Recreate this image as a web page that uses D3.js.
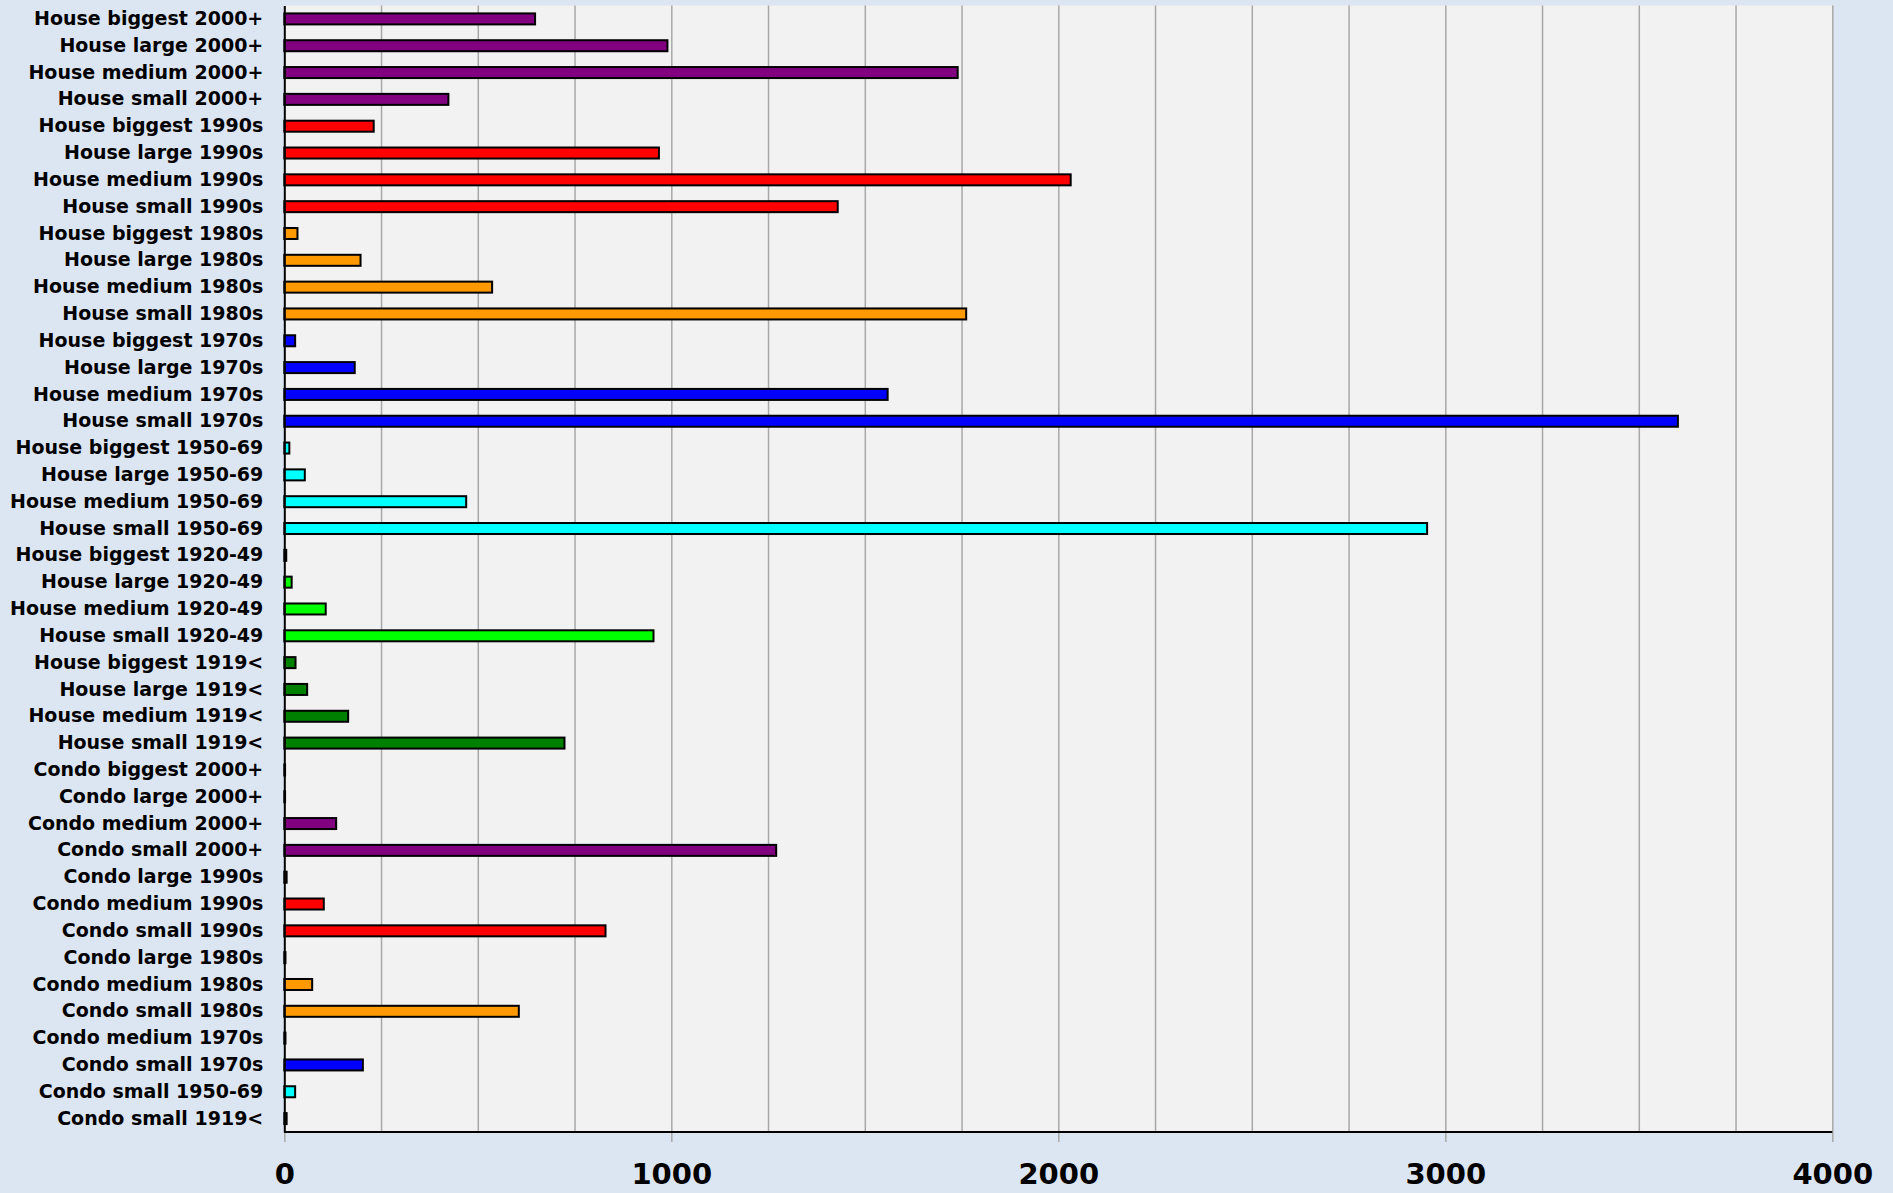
<!DOCTYPE html>
<html>
<head>
	<meta charset="utf-8">
	<script src="https://cdn.jsdelivr.net/npm/d3@7"></script>
	<style>
		body { margin: 0; background-color: #dce6f2; }
		svg { display: block; }
		text { font-family: "DejaVu Sans", Verdana, sans-serif; font-weight: bold; fill: #000; }
	</style>
</head>

<body>

<div id="chart"></div>

<script>

// categories top to bottom
var labels = [
  "House biggest 2000+", "House large 2000+", "House medium 2000+", "House small 2000+",
  "House biggest 1990s", "House large 1990s", "House medium 1990s", "House small 1990s",
  "House biggest 1980s", "House large 1980s", "House medium 1980s", "House small 1980s",
  "House biggest 1970s", "House large 1970s", "House medium 1970s", "House small 1970s",
  "House biggest 1950-69", "House large 1950-69", "House medium 1950-69", "House small 1950-69",
  "House biggest 1920-49", "House large 1920-49", "House medium 1920-49", "House small 1920-49",
  "House biggest 1919<", "House large 1919<", "House medium 1919<", "House small 1919<",
  "Condo biggest 2000+", "Condo large 2000+", "Condo medium 2000+", "Condo small 2000+",
  "Condo large 1990s", "Condo medium 1990s", "Condo small 1990s",
  "Condo large 1980s", "Condo medium 1980s", "Condo small 1980s",
  "Condo medium 1970s", "Condo small 1970s",
  "Condo small 1950-69",
  "Condo small 1919<"
];

var values = [
  648, 990, 1740, 424,
  231, 968, 2032, 1430,
  34, 197, 537, 1762,
  28, 182, 1559, 3601,
  13, 53, 470, 2953,
  5, 19, 107, 954,
  29, 59, 165, 724,
  2, 2, 134, 1271,
  6, 102, 830,
  3, 72, 606,
  3, 203,
  28,
  6
];

// period of each bar decides its colour
var periods = ["2000+", "1990s", "1980s", "1970s", "1950-69", "1920-49", "1919<"];
var periodColors = ["#800080", "#ff0000", "#ff9900", "#0000ff", "#00ffff", "#00ff00", "#008000"];

var xTicks = [0, 1000, 2000, 3000, 4000];
var xMax = 4000;

function periodOf(label) {
  var parts = label.split(" ");
  return parts[parts.length - 1];
}

var data = labels.map(function(d, i) {
  return {label: d, value: values[i], period: periodOf(d)};
});

var width = 1893, height = 1193;
var plotLeft = 284.3, plotRight = 1832.3, plotTop = 5.5, plotBottom = 1132;

var svg = d3.select("#chart")
  .append("svg")
  .attr("width", width)
  .attr("height", height);

var x = d3.scaleLinear().domain([0, xMax]).range([plotLeft, plotRight]);
var y = d3.scaleBand().domain(labels).range([plotTop, plotBottom]).padding(0);
var color = d3.scaleOrdinal().domain(periods).range(periodColors);

// plot area
svg.append("rect")
  .attr("x", plotLeft)
  .attr("y", plotTop)
  .attr("width", plotRight - plotLeft)
  .attr("height", plotBottom - plotTop)
  .style("fill", "#f2f2f2");

// vertical grid lines every 250
var grid = svg.append("g")
  .attr("transform", "translate(0," + plotBottom + ")")
  .call(d3.axisBottom(x)
    .tickValues(d3.range(250, xMax + 1, 250))
    .tickSize(-(plotBottom - plotTop))
    .tickFormat(""));
grid.select(".domain").remove();
grid.selectAll("line")
  .style("stroke", "#a8a8a8")
  .style("stroke-width", "1.5");

// major ticks and labels
var xAxis = svg.append("g")
  .attr("transform", "translate(0," + plotBottom + ")")
  .call(d3.axisBottom(x)
    .tickValues(xTicks)
    .tickSize(10)
    .tickPadding(21)
    .tickFormat(d3.format("d")));
xAxis.select(".domain").remove();
xAxis.selectAll("line")
  .style("stroke", "#a8a8a8")
  .style("stroke-width", "1.5");
xAxis.selectAll("text")
  .style("font-size", "29px")
  .attr("fill", "#000");

// bars
svg.selectAll(".bar")
  .data(data)
  .enter()
  .append("rect")
  .attr("class", "bar")
  .attr("x", x(0))
  .attr("y", function(d) { return y(d.label) + y.bandwidth() / 2 - 5.5; })
  .attr("width", function(d) { return x(d.value) - x(0); })
  .attr("height", 11)
  .style("fill", function(d) { return color(d.period); })
  .style("stroke", "#000")
  .style("stroke-width", "2");

// bottom axis line
svg.append("line")
  .attr("x1", plotLeft)
  .attr("x2", plotRight)
  .attr("y1", plotBottom)
  .attr("y2", plotBottom)
  .style("stroke", "#000")
  .style("stroke-width", "2");

// category axis
var yAxis = svg.append("g")
  .attr("transform", "translate(" + plotLeft + ",0)")
  .call(d3.axisLeft(y).tickSize(0).tickPadding(21));
yAxis.select(".domain")
  .style("stroke", "#000")
  .style("stroke-width", "2");
yAxis.selectAll("text")
  .style("font-size", "19px")
  .attr("fill", "#000");

</script>

</body>
</html>
